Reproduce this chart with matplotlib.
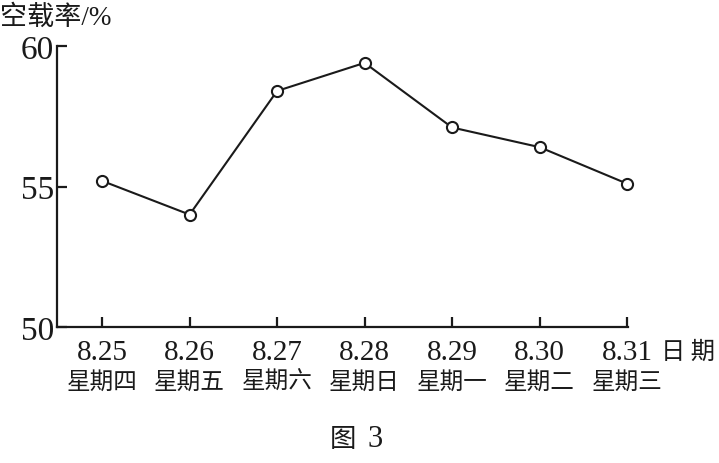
import numpy as np
import matplotlib.pyplot as plt
from matplotlib import transforms

# dados
datas = ["8.25", "8.26", "8.27", "8.28", "8.29", "8.30", "8.31"]
dias = ["星期四", "星期五", "星期六", "星期日", "星期一", "星期二", "星期三"]
taxa = [55.2, 54.0, 58.4, 59.4, 57.1, 56.4, 55.1]

serif = ["Liberation Serif", "Noto Sans CJK SC"]
cjk = ["Noto Sans CJK SC", "DejaVu Sans"]
cor = "#1a1a1a"

fig = plt.figure(figsize=(7.19, 4.64), dpi=100)
ax = fig.add_axes([0.0793, 0.2931, 0.7941, 0.6056])

x = np.arange(len(datas))
ax.plot(x, taxa, color=cor, lw=1.5, marker="o", ms=8,
        mfc="white", mec=cor, mew=1.5, zorder=3, clip_on=False)

ax.set_xlim(-0.515, 6.01)
ax.set_ylim(50, 60)
ax.spines["top"].set_visible(False)
ax.spines["right"].set_visible(False)
for s in ["left", "bottom"]:
    ax.spines[s].set_linewidth(1.6)
    ax.spines[s].set_color(cor)

ax.set_xticks(x)
ax.set_xticklabels([])
ax.set_yticks([50, 55, 60])
ax.set_yticklabels(["50", "55", "60"], family=serif, fontsize=24, color=cor)
ax.tick_params(axis="both", direction="in", length=7, width=1.6, color=cor)
ax.tick_params(axis="y", pad=2)

trans = transforms.blended_transform_factory(ax.transData, ax.transAxes)
for xi, d, w in zip(x, datas, dias):
    ax.text(xi, -0.09, d, transform=trans, ha="center", va="center",
            family=serif, fontsize=21, color=cor)
    ax.text(xi, -0.195, w, transform=trans, ha="center", va="center",
            family=cjk, fontsize=17, color=cor)

fig.text(0.957, 0.241, "日 期", ha="center", va="center", family=cjk,
         fontsize=17.5, color=cor)
fig.text(0.0, 0.962, "空载率/%", ha="left", va="center", family=serif,
         fontsize=19.5, color=cor)
fig.text(0.477, 0.052, "图", ha="center", va="center", family=cjk,
         fontsize=19, fontweight="medium", color=cor)
fig.text(0.522, 0.052, "3", ha="center", va="center", family=serif,
         fontsize=22, color=cor)

fig.savefig("out.png", dpi=100)
